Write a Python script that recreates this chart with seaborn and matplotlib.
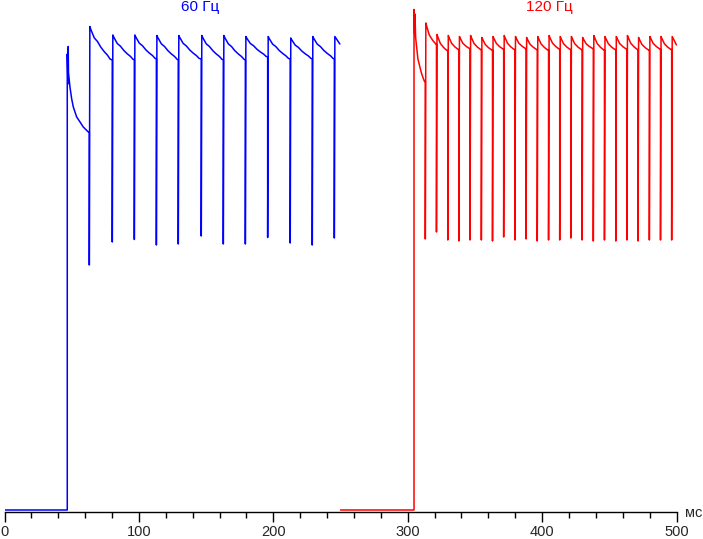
import numpy as np
import pandas as pd
import matplotlib
matplotlib.use("Agg")
import matplotlib.pyplot as plt
import seaborn as sns
from matplotlib.ticker import MultipleLocator

# --- données (temps en ms, luminosité en unités arbitraires) ---
# 60 Hz : début (plateau bas, montée, premier déclin)
blue_start_ms = [0.0, 46.7, 46.7, 47.2, 47.4, 47.6, 48.7, 50.0, 51.2, 53.7, 56.2, 58.6, 62.4]
blue_start_val = [0.3, 0.3, 91.5, 85.5, 93.0, 87.8, 84.9, 82.5, 80.9, 78.9, 77.9, 76.9, 75.9]
# creux à chaque rafraîchissement, pic qui suit, niveau juste avant le creux suivant
blue_dip_ms = [63.1, 80.2, 96.6, 113.0, 129.3, 146.4, 162.8, 179.2, 195.8, 212.6, 229.0, 245.4]
blue_dip_val = [49.3, 53.9, 54.4, 53.3, 53.5, 55.1, 53.5, 53.5, 54.8, 53.7, 53.3, 54.7]
blue_peak_val = [97.0, 95.3, 95.3, 95.2, 95.2, 95.2, 95.2, 95.0, 95.0, 94.7, 95.0, 95.0]
blue_end_val = [90.3, 90.3, 90.5, 90.3, 90.5, 90.3, 90.3, 90.9, 90.5, 90.5, 90.5, 93.5]
blue_end_ms = 249.5
# forme du déclin (ms après le pic, part de la chute)
blue_decay_ms = [0.0, 0.74, 3.3, 5.7, 8.2, 10.7, 13.2, 15.0]
blue_decay_frac = [0.0, 0.09, 0.34, 0.45, 0.62, 0.75, 0.86, 0.97]

# 120 Hz
red_start_ms = [250.0, 304.7, 304.7, 305.2, 305.4, 305.9, 306.8, 307.6, 308.8, 310.0, 311.2, 312.5]
red_start_val = [0.3, 0.3, 100.4, 95.5, 99.5, 94.8, 92.5, 90.5, 89.2, 87.9, 86.9, 86.0]
red_dip_ms = [313.1, 321.4, 329.8, 338.1, 346.4, 354.8, 363.1, 371.4, 379.8, 388.1, 396.4, 404.8,
              413.1, 421.4, 429.8, 438.1, 446.4, 454.8, 463.1, 471.4, 479.8, 488.1, 496.4]
red_dip_val = [54.5, 55.9, 54.3, 54.1, 54.3, 54.3, 54.1, 54.9, 54.3, 54.5, 54.1, 54.3,
               54.3, 54.7, 54.3, 54.1, 54.3, 54.1, 54.3, 54.1, 54.3, 54.3, 54.3]
red_peak_val = [97.7, 95.4, 95.2, 95.0, 95.2, 94.8, 95.0, 95.2, 95.0, 94.8, 95.0, 95.2,
                95.0, 95.0, 94.8, 95.2, 95.0, 95.0, 95.2, 94.8, 95.0, 95.0, 95.0]
red_end_val = [93.5, 92.2, 92.4, 92.6, 92.4, 92.3, 92.5, 92.4, 92.6, 92.4, 92.3, 92.5,
               92.4, 92.4, 92.6, 92.3, 92.4, 92.5, 92.4, 92.3, 92.5, 92.4, 93.3]
red_end_ms = 500.0
red_decay_ms = [0.0, 0.74, 2.5, 5.0, 7.4]
red_decay_frac = [0.0, 0.18, 0.56, 0.82, 1.0]

RISE = 0.4  # décalage entre le creux et le pic (épaisseur du trait)


def build_trace(start_ms, start_val, dips, dip_vals, peaks, ends, dec_ms, dec_frac, t_end):
    xs, ys = list(start_ms), list(start_val)
    n = len(dips)
    for i in range(n):
        t = dips[i]
        xs += [t, t, t + RISE]
        ys += [ys[-1], dip_vals[i], peaks[i]]
        t_next = dips[i + 1] if i + 1 < n else t_end
        if i + 1 < n:
            for r, f in zip(dec_ms[1:], dec_frac[1:]):
                if t + RISE + r >= t_next:
                    break
                xs.append(t + RISE + r)
                ys.append(peaks[i] - f * (peaks[i] - ends[i]))
        xs.append(t_next)
        ys.append(ends[i])
    return pd.DataFrame({"ms": xs, "val": ys})


blue = build_trace(blue_start_ms, blue_start_val, blue_dip_ms, blue_dip_val, blue_peak_val,
                   blue_end_val, blue_decay_ms, blue_decay_frac, blue_end_ms)
red = build_trace(red_start_ms, red_start_val, red_dip_ms, red_dip_val, red_peak_val,
                  red_end_val, red_decay_ms, red_decay_frac, red_end_ms)

sns.set_style("white")
plt.rcParams["font.family"] = ["Liberation Sans", "DejaVu Sans"]

fig = plt.figure(figsize=(7.03, 5.39), dpi=100)
ax = fig.add_axes([4.5 / 703, (539 - 511.5) / 539, 672 / 703, 511.5 / 539])

sns.lineplot(data=blue, x="ms", y="val", sort=False, estimator=None, color="#0000ff", lw=1.1, ax=ax)
sns.lineplot(data=red, x="ms", y="val", sort=False, estimator=None, color="#ff0000", lw=1.1, ax=ax)

ax.set_xlim(0, 500)
ax.set_ylim(0, 102.3)
for s in ["left", "top", "right"]:
    ax.spines[s].set_visible(False)
ax.spines["bottom"].set_color("black")
ax.spines["bottom"].set_linewidth(1.0)
ax.set_yticks([])
ax.set_xticks(range(0, 501, 100))
ax.xaxis.set_minor_locator(MultipleLocator(20))
ax.tick_params(axis="x", which="major", direction="out", length=7.5, width=1, color="black",
               pad=2.5, labelsize=10.5, bottom=True)
ax.tick_params(axis="x", which="minor", direction="out", length=4.3, width=1, color="black", bottom=True)
ax.set_xlabel("")
ax.set_ylabel("")

ax.text(506.3, -1.1, "мс", fontsize=10.5, ha="left", va="baseline", clip_on=False)
ax.text(145.5, 100.0, "60 Гц", color="#0000ff", fontsize=11, ha="center", va="baseline")
ax.text(405.1, 100.0, "120 Гц", color="#ff0000", fontsize=11, ha="center", va="baseline")

fig.savefig("out.png", dpi=100)
